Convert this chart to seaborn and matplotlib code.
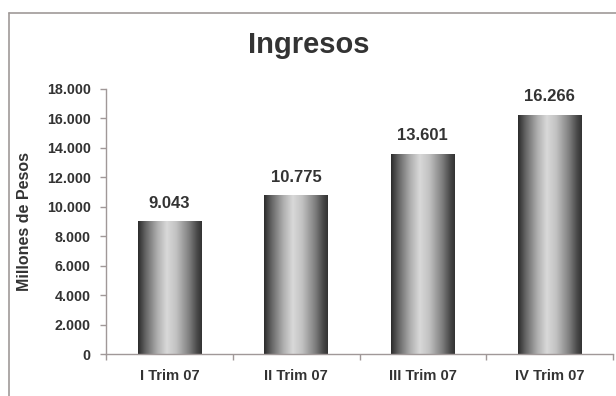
import matplotlib
matplotlib.use("Agg")
import matplotlib.pyplot as plt
import seaborn as sns
import numpy as np
import pandas as pd
from matplotlib.colors import LinearSegmentedColormap
from matplotlib.ticker import FuncFormatter, FixedLocator

categories = ["I Trim 07", "II Trim 07", "III Trim 07", "IV Trim 07"]
values = [9043, 10775, 13601, 16266]
value_labels = ["9.043", "10.775", "13.601", "16.266"]
yticks = [0, 2000, 4000, 6000, 8000, 10000, 12000, 14000, 16000, 18000]

sns.set_theme(style="white")
plt.rcParams['font.family'] = ['Liberation Sans', 'DejaVu Sans']

df = pd.DataFrame({"cat": categories, "val": values})

fig = plt.figure(figsize=(6.16, 3.96), dpi=100)
ax = fig.add_axes([106/616, 1-354/396, (613-106)/616, (354-89)/396])

sns.barplot(data=df, x="cat", y="val", ax=ax, width=0.5, color="#888888",
            saturation=1, edgecolor="none")

cmap = LinearSegmentedColormap.from_list("cyl", [
    (0.0, (0.17, 0.17, 0.17)),
    (0.12, (0.40, 0.40, 0.40)),
    (0.30, (0.68, 0.68, 0.68)),
    (0.45, (0.85, 0.85, 0.85)),
    (0.60, (0.76, 0.76, 0.76)),
    (0.80, (0.50, 0.50, 0.50)),
    (0.93, (0.28, 0.28, 0.28)),
    (1.0, (0.20, 0.20, 0.20)),
])
grad = np.linspace(0, 1, 256).reshape(1, -1)
for p in ax.patches:
    x0, y0 = p.get_x(), p.get_y()
    w, h = p.get_width(), p.get_height()
    im = ax.imshow(grad, cmap=cmap, aspect="auto", extent=[x0, x0 + w, y0, y0 + h],
                   interpolation="bilinear", zorder=p.get_zorder() + 0.1)
    im.set_clip_path(p)

for i, (v, lab) in enumerate(zip(values, value_labels)):
    ax.text(i, v + 700, lab, ha="center", va="bottom", fontsize=12,
            fontweight="bold", color="#333333")

ax.set_xlim(-0.5, 3.5)
ax.set_ylim(0, 18000)
ax.set_yticks(yticks)
ax.yaxis.set_major_formatter(FuncFormatter(lambda v, p: f"{int(v):,}".replace(",", ".")))
ax.set_xticks(range(len(categories)))
ax.set_xticklabels(categories)
ax.xaxis.set_minor_locator(FixedLocator([-0.5, 0.5, 1.5, 2.5, 3.5]))

spine_c = "#a09898"
for s in ["top", "right"]:
    ax.spines[s].set_visible(False)
for s in ["left", "bottom"]:
    ax.spines[s].set_color(spine_c)
    ax.spines[s].set_linewidth(1.0)

ax.tick_params(axis="y", which="major", left=True, length=4, width=1, color=spine_c,
               labelsize=10.3, labelcolor="#333333", pad=7)
ax.tick_params(axis="x", which="major", bottom=False, length=0, labelsize=10.6,
               labelcolor="#333333", pad=11)
ax.tick_params(axis="x", which="minor", bottom=True, length=4, width=1, color=spine_c)
for t in ax.get_xticklabels() + ax.get_yticklabels():
    t.set_fontweight("bold")

ax.set_xlabel("")
ax.set_ylabel("Millones de Pesos", fontsize=11.5, fontweight="bold", color="#333333")
ax.yaxis.set_label_coords((25 - 106) / 507, 0.5)
ax.yaxis.label.set_va("center")

fig.text(309/616, 1-45/396, "Ingresos", ha="center", va="center", fontsize=21,
         fontweight="bold", color="#333333")

# outer chart border (top and left visible)
fig.add_artist(plt.Line2D([9/616, 1.01], [1-13/396, 1-13/396], transform=fig.transFigure,
                          color="#a09a98", linewidth=1.2))
fig.add_artist(plt.Line2D([9/616, 9/616], [-0.01, 1-13/396], transform=fig.transFigure,
                          color="#a09a98", linewidth=1.2))

fig.savefig("out.png", dpi=100)
